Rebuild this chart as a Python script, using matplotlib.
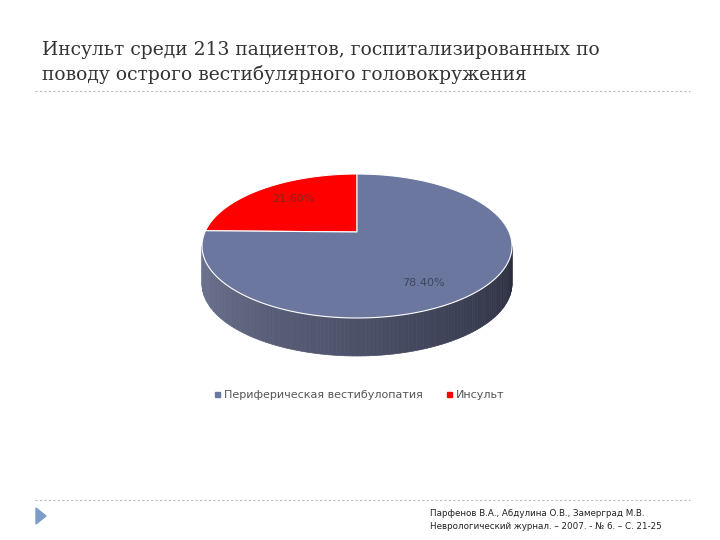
import numpy as np
import matplotlib
matplotlib.use("Agg")
import matplotlib.pyplot as plt
from matplotlib.patches import Polygon, Rectangle

labels = ["Периферическая вестибулопатия", "Инсульт"]
values = [78.40, 21.60]
colors = ["#6b779f", "#ff0000"]

fig = plt.figure(figsize=(7.2, 5.4), dpi=100)
ax = fig.add_axes([0, 0, 1, 1])
ax.set_xlim(0, 720); ax.set_ylim(540, 0); ax.axis("off")

ax.text(42, 84, "Инсульт среди 213 пациентов, госпитализированных по\nповоду острого вестибулярного головокружения",
        fontsize=13.5, family="DejaVu Serif", color="#333333", va="bottom", linespacing=1.4)
ax.plot([35, 690], [91, 91], ls=(0, (2, 2)), color="#bbbbbb", lw=0.8)
ax.plot([35, 690], [500, 500], ls=(0, (2, 2)), color="#bbbbbb", lw=0.8)
ax.add_patch(Polygon([[36, 508], [36, 524], [46, 516]], closed=True, color="#7f9cc8"))
ax.text(430, 520, "Парфенов В.А., Абдулина О.В., Замерград М.В.\nНеврологический журнал. – 2007. - № 6. – С. 21-25",
        fontsize=6.3, color="#222222", va="center", linespacing=1.5)

cx, cy, rx, ry, depth = 357, 246, 155, 72, 38
apex_y = 232
def pt(a, dy=0):
    return cx + rx*np.cos(a), cy - ry*np.sin(a) + dy

# side (front half) with gradient strips
n = 120
angs = np.linspace(np.pi, 2*np.pi, n+1)
for i in range(n):
    a0, a1 = angs[i], angs[i+1]
    t = i / n
    c0 = np.array([0x6e, 0x74, 0x92]) / 255
    c1 = np.array([0x2a, 0x2d, 0x3e]) / 255
    c = c0*(1-t) + c1*t
    x0, y0 = pt(a0); x1, y1 = pt(a1)
    ax.add_patch(Polygon([[x0, y0], [x1, y1], [x1, y1+depth], [x0, y0+depth]],
                         closed=True, fc=c, ec=c, lw=0.5))

# top wedges
start = np.pi/2
total = sum(values)
a = start
for v, col in zip(reversed(values), reversed(colors)):
    b = a + 2*np.pi*v/total
    th = np.linspace(a, b, 200)
    xs, ys = pt(th)
    poly = np.column_stack([np.r_[cx, xs], np.r_[apex_y, ys]])
    ax.add_patch(Polygon(poly, closed=True, fc=col, ec="white", lw=0.8))
    a = b

ax.text(293, 199, f"{values[1]:.2f}%", fontsize=8, color="#8b2020", ha="center", va="center")
ax.text(423, 283, f"{values[0]:.2f}%", fontsize=8, color="#404560", ha="center", va="center")

# legend
ax.add_patch(Rectangle((215, 392), 5, 5, color=colors[0]))
ax.text(224, 395, labels[0], fontsize=8, color="#555555", va="center")
ax.add_patch(Rectangle((447, 392), 5, 5, color=colors[1]))
ax.text(456, 395, labels[1], fontsize=8, color="#555555", va="center")

fig.savefig("out.png", dpi=100)
